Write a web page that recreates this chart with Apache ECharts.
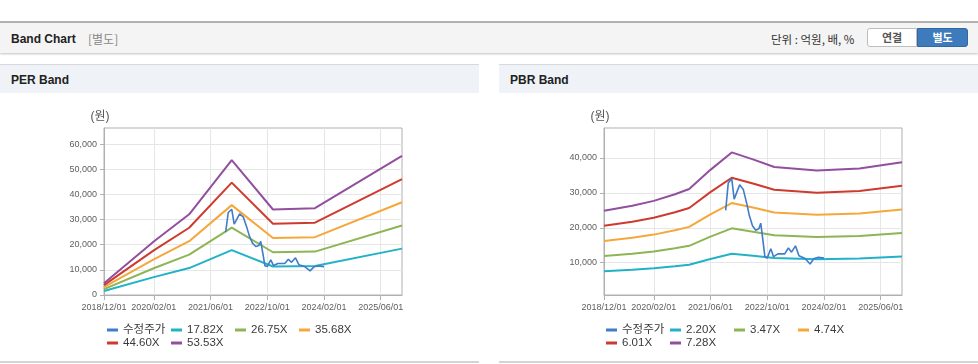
<!DOCTYPE html>
<html>
<head>
<meta charset="utf-8">
<script src="https://cdn.jsdelivr.net/npm/echarts@6/dist/echarts.min.js"></script>
<style>
  html, body { margin:0; padding:0; background:#fff; }
  body { width:978px; height:364px; position:relative; overflow:hidden;
         font-family:'Liberation Sans','Noto Sans CJK KR',sans-serif; }
  .topline { position:absolute; left:0; top:21px; width:978px; height:2px; background:#b2b2b2; }
  .hdr { position:absolute; left:0; top:23px; width:978px; height:30px; background:#f4f4f4;
         box-shadow:0 1px 2px rgba(0,0,0,0.25); }
  .hdr .t { position:absolute; left:11px; top:9px; font-size:12px; font-weight:bold; color:#222; }
  .hdr .s { position:absolute; left:88px; top:8px; font-size:12px; color:#888; font-family:'Noto Sans CJK KR',sans-serif; line-height:16px; }
  .hdr .u { position:absolute; left:771px; top:8px; font-size:11.5px; color:#333; font-family:'Noto Sans CJK KR',sans-serif; line-height:16px; white-space:pre; }
  .btn { position:absolute; top:5px; height:19px; width:50px; box-sizing:border-box; font-size:11px; font-weight:bold;
         text-align:center; line-height:17px; font-family:'Noto Sans CJK KR',sans-serif; }
  .b1 { left:867px; background:#fff; border:1px solid #bdbdbd; border-radius:3px 0 0 3px; color:#555; }
  .b2 { left:917px; width:51px; background:#3d7bbd; border:1px solid #33679f; border-radius:0 3px 3px 0; color:#fff; }
  .ptitle { position:absolute; top:64px; height:29px; width:479px; background:#eff2f7; border-top:1px solid #d6d9de; box-sizing:border-box; }
  .ptitle span { position:absolute; left:11px; top:8px; font-size:12px; font-weight:bold; color:#222; }
  .pbot { position:absolute; top:361px; height:2px; width:479px; background:#d4d4d4; }
  #c { position:absolute; left:0; top:0; width:978px; height:364px; z-index:2; }
</style>
</head>
<body>
<div class="topline"></div>
<div class="hdr">
  <div class="t">Band Chart</div>
  <div class="s">[별도]</div>
  <div class="u">단위 : 억원, 배, %</div>
  <div class="btn b1">연결</div>
  <div class="btn b2">별도</div>
</div>
<div class="ptitle" style="left:0"><span>PER Band</span></div>
<div class="ptitle" style="left:499px"><span>PBR Band</span></div>
<div class="pbot" style="left:0"></div>
<div class="pbot" style="left:499px"></div>
<div id="c"></div>
<script>
// ---- data ----
const xTickDates = ['2018-12-01','2020-02-01','2021-06-01','2022-10-01','2024-02-01','2025-06-01'];
const xMinDate = '2018-12-01';
const xMaxDate = '2025-12-01';

const priceDates = ['2021-10-10','2021-11-01','2021-12-01','2021-12-22','2022-02-07','2022-03-10','2022-04-12','2022-05-01',
  '2022-05-28','2022-06-25','2022-07-22','2022-08-07','2022-08-25','2022-09-12','2022-10-01','2022-11-01','2022-11-25',
  '2023-01-01','2023-03-01','2023-04-01','2023-04-28','2023-06-01','2023-07-01','2023-08-22','2023-10-04','2023-11-07',
  '2023-12-15','2024-02-01'];
const price = [25000,32800,34100,28200,32300,31000,26500,23500,
  20600,19300,19700,21300,16500,11600,11300,14000,11700,
  12500,12500,14200,13000,14800,12000,11200,9600,11200,
  11500,11300];

const perDates = ['2018-12-01','2020-02-01','2020-12-01','2021-12-01','2022-11-20','2023-11-15','2025-12-01'];
const per1782 = [1567, 7100,10700,17867,11333,11500,18433];
const per2675 = [2350,10650,16050,26800,17000,17250,27650];
const per3568 = [3133,14200,21400,35733,22667,23000,36867];
const per4460 = [3917,17750,26750,44667,28333,28750,46083];
const per5353 = [4700,21300,32100,53600,34000,34500,55300];
const perNames = ['수정주가','17.82X','26.75X','35.68X','44.60X','53.53X'];
const perYTicks = [0,10000,20000,30000,40000,50000,60000];

const pbrDates = ['2018-12-01','2019-08-01','2020-02-01','2020-08-01','2020-12-01','2021-06-01','2021-12-01',
  '2022-06-01','2022-12-01','2023-12-01','2024-12-01','2025-12-01'];
const pbr220 = [ 7525, 7948, 8371, 8945, 9398,11061,12572,11967,11302,11000,11181,11725];
const pbr347 = [11867,12535,13202,14107,14822,17444,19827,18873,17825,17348,17634,18492];
const pbr474 = [16212,17124,18035,19273,20249,23830,27086,25784,24351,23700,24091,25263];
const pbr601 = [20555,21710,22866,24435,25673,30213,34341,32690,30874,30048,30544,32029];
const pbr728 = [24900,26300,27700,29600,31100,36600,41600,39600,37400,36400,37000,38800];
const pbrNames = ['수정주가','2.20X','3.47X','4.74X','6.01X','7.28X'];
const pbrYTicks = [10000,20000,30000,40000];

const colors = ['#3f7dcc','#22b2c7','#8db555','#f5a73a','#cf3a2e','#924f9e'];

// ---- chart ----
const FONT = "'Liberation Sans','Noto Sans CJK KR',sans-serif";
const ts = s => Date.parse(s + 'T00:00:00Z');
const pad = n => (n < 10 ? '0' : '') + n;
function fmtDate(v) { const d = new Date(v); return d.getUTCFullYear() + '/' + pad(d.getUTCMonth()+1) + '/' + pad(d.getUTCDate()); }
function fmtNum(v) { return Math.round(v).toLocaleString('en-US'); }
const axisCol = '#b0b0b0';
const xTicks = xTickDates.map(ts);

function xAxis(gi) {
  return {
    type:'value', gridIndex:gi, min:ts(xMinDate), max:ts(xMaxDate), scale:true,
    axisLine:{ show:true, lineStyle:{ color:axisCol, width:1 } },
    axisTick:{ show:true, length:5, customValues:xTicks, lineStyle:{ color:axisCol } },
    axisLabel:{ customValues:xTicks, formatter:fmtDate, color:'#5e5e5e', fontSize:9, margin:8, fontFamily:FONT, hideOverlap:false },
    splitLine:{ show:true, lineStyle:{ color:'#e6e6e6', width:1 } }
  };
}
function yAxis(gi, min, max, ticks) {
  return {
    type:'value', gridIndex:gi, min:min, max:max,
    name:'(원)', nameLocation:'end', nameGap:5,
    nameTextStyle:{ color:'#555', fontSize:12, fontFamily:FONT, align:'center', padding:[0,8,0,0] },
    axisLine:{ show:true, lineStyle:{ color:axisCol, width:1 } },
    axisTick:{ show:true, length:4, customValues:ticks, lineStyle:{ color:axisCol } },
    axisLabel:{ customValues:ticks, formatter:fmtNum, color:'#5e5e5e', fontSize:9, margin:7, fontFamily:FONT },
    splitLine:{ show:true, lineStyle:{ color:'#e6e6e6', width:1 } }
  };
}
function band(name, dates, vals, color, gi) {
  return { name:name, type:'line', xAxisIndex:gi, yAxisIndex:gi, data:dates.map((d,i)=>[ts(d), vals[i]]),
           showSymbol:false, symbol:'none', lineStyle:{ width:2, color:color }, itemStyle:{ color:color }, z:2 };
}
function priceSeries(gi) {
  return { name:'수정주가', type:'line', xAxisIndex:gi, yAxisIndex:gi, data:priceDates.map((d,i)=>[ts(d), price[i]]),
           showSymbol:false, symbol:'none', lineStyle:{ width:1.6, color:colors[0] }, itemStyle:{ color:colors[0] }, z:5 };
}
function legend(left, names) {
  return { left:left, top:324, width:262, padding:0, itemGap:1, orient:'horizontal',
           icon:'rect', itemWidth:11, itemHeight:3, data:names, selectedMode:false,
           textStyle:{ width:47, fontSize:11.5, lineHeight:12, color:'#3a3a3a', fontFamily:FONT } };
}

const chart = echarts.init(document.getElementById('c'), null, { renderer:'canvas' });
chart.setOption({
  animation:false,
  backgroundColor:'transparent',
  grid:[
    { left:104, top:128, width:298, height:167, show:true, borderColor:axisCol, borderWidth:1, backgroundColor:'transparent' },
    { left:604, top:128, width:298, height:167, show:true, borderColor:axisCol, borderWidth:1, backgroundColor:'transparent' }
  ],
  xAxis:[ xAxis(0), xAxis(1) ],
  yAxis:[ yAxis(0, 0, 66400, perYTicks), yAxis(1, 720, 48600, pbrYTicks) ],
  legend:[ legend(107, perNames), legend(606, pbrNames) ],
  series:[
    band('17.82X', perDates, per1782, colors[1], 0),
    band('26.75X', perDates, per2675, colors[2], 0),
    band('35.68X', perDates, per3568, colors[3], 0),
    band('44.60X', perDates, per4460, colors[4], 0),
    band('53.53X', perDates, per5353, colors[5], 0),
    priceSeries(0),
    band('2.20X', pbrDates, pbr220, colors[1], 1),
    band('3.47X', pbrDates, pbr347, colors[2], 1),
    band('4.74X', pbrDates, pbr474, colors[3], 1),
    band('6.01X', pbrDates, pbr601, colors[4], 1),
    band('7.28X', pbrDates, pbr728, colors[5], 1),
    priceSeries(1)
  ]
});
</script>
</body>
</html>
